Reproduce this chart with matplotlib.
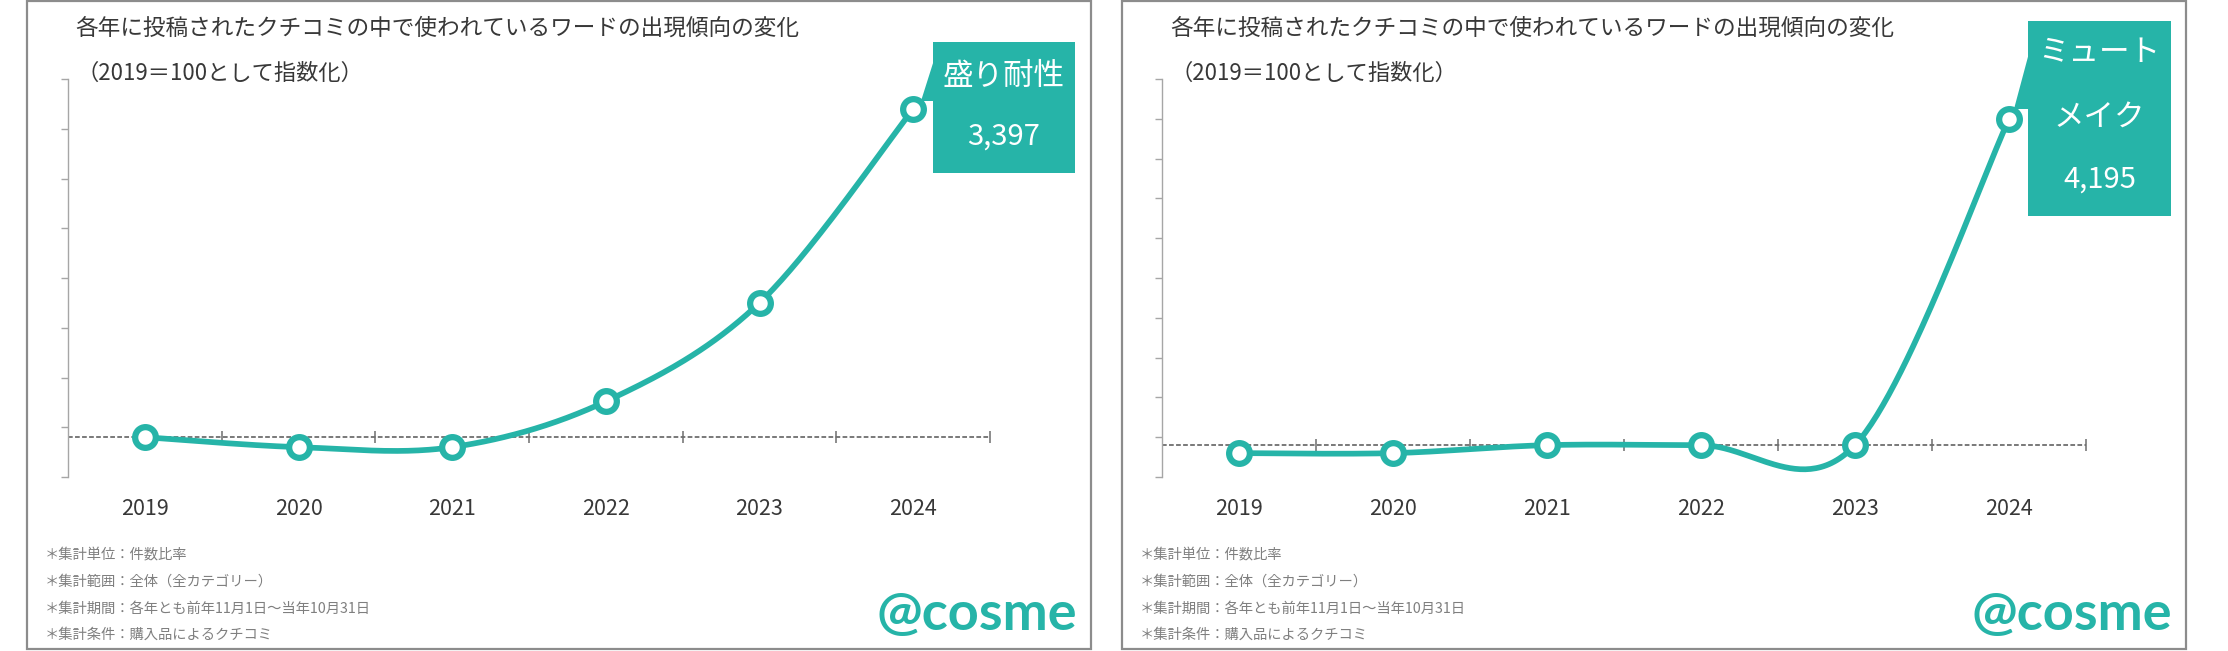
import numpy as np
import matplotlib
matplotlib.use("Agg")
import matplotlib.pyplot as plt
from matplotlib.patches import Rectangle, Polygon

plt.rcParams['font.family'] = ['Noto Sans CJK JP', 'DejaVu Sans']

# ---------------- data ----------------
years = ['2019', '2020', '2021', '2022', '2023', '2024']
left_word = ['盛り耐性']
left_values = [100, 0, 0, 460, 1450, 3397]
right_word = ['ミュート', 'メイク']
right_values = [0, 0, 100, 100, 100, 4195]
left_ylim = (-300, 3700)
right_ylim = (-300, 4700)
tick_step = 500
cross_value = 100

title = '各年に投稿されたクチコミの中で使われているワードの出現傾向の変化'
subtitle = '（2019＝100として指数化）'
notes = ['＊集計単位：件数比率',
         '＊集計範囲：全体（全カテゴリー）',
         '＊集計期間：各年とも前年11月1日～当年10月31日',
         '＊集計条件：購入品によるクチコミ']
logo = '@cosme'

# ---------------- style ----------------
TEAL = '#26B4A8'
TEXT = '#383838'
NOTE = '#7F7F7F'
AXIS = '#A6A6A6'
W, H = 2228, 651

fig = plt.figure(figsize=(W / 100, H / 100), dpi=100)


def fx(px):
    return px / W


def fy(py):
    return 1 - py / H


def smooth(xs, ys, n=60):
    P = np.column_stack([xs, ys]).astype(float)
    pts = np.vstack([P[0], P, P[-1]])
    out = []
    t = np.linspace(0, 1, n)[:, None]
    for i in range(len(P) - 1):
        p0, p1, p2, p3 = pts[i], pts[i + 1], pts[i + 2], pts[i + 3]
        c1 = p1 + (p2 - p0) / 6
        c2 = p2 - (p3 - p1) / 6
        seg = (1 - t) ** 3 * p1 + 3 * (1 - t) ** 2 * t * c1 + 3 * (1 - t) * t ** 2 * c2 + t ** 3 * p2
        out.append(seg if i == 0 else seg[1:])
    return np.vstack(out)


def panel(x0, ax_l, ax_r, values, ylim, word, box, wedge, word_ys, val_y):
    # frame
    fig.patches.append(Rectangle((fx(x0), fy(649)), (1064) / W, (648) / H,
                                 transform=fig.transFigure, fill=False,
                                 edgecolor='#8C8C8C', lw=1.6, zorder=0.5))
    # titles
    fig.text(fx(x0 + 48), fy(28), title, fontsize=16.3, color=TEXT, va='center', ha='left')
    fig.text(fx(x0 + 49), fy(73), subtitle, fontsize=16, color=TEXT, va='center', ha='left')
    # notes
    for k, s in enumerate(notes):
        fig.text(fx(x0 + 18), fy(555 + k * 26.7), s, fontsize=10.3, color=NOTE, va='center', ha='left')
    # logo
    fig.text(fx(x0 + 950), fy(615), logo, fontsize=39, color=TEAL, fontfamily='Lato',
             fontweight='bold', va='center', ha='center')

    ax = fig.add_axes([fx(ax_l), fy(477), (ax_r - ax_l) / W, (477 - 79) / H])
    ax.set_facecolor('none')
    ax.set_xlim(-0.5, len(years) - 0.5)
    ax.set_ylim(*ylim)
    for s in ['top', 'right', 'bottom']:
        ax.spines[s].set_visible(False)
    ax.spines['left'].set_color(AXIS)
    ax.spines['left'].set_linewidth(1.0)
    ax.set_yticks(np.arange(ylim[0], ylim[1] + 1, tick_step))
    ax.tick_params(axis='y', direction='out', length=5, width=1, color=AXIS, labelleft=False)
    ax.set_xticks(range(len(years)), years)
    ax.tick_params(axis='x', length=0, pad=15, labelsize=15.5, labelcolor=TEXT)

    # horizontal axis (dashed, crossing at 100)
    ax.axhline(cross_value, color='#6E6E6E', lw=1.3, ls=(0, (2.6, 1.3)), zorder=1)
    ax.plot(np.arange(0.5, len(years), 1.0), [cross_value] * len(years), ls='none',
            marker='|', ms=9, mew=1.1, color='#6E6E6E', zorder=1)

    xs = np.arange(len(years))
    curve = smooth(xs, values)
    ax.plot(curve[:, 0], curve[:, 1], color=TEAL, lw=4.1, solid_capstyle='round', zorder=3,
            clip_on=False)
    ax.plot(xs, values, ls='none', marker='o', ms=14.9, mew=4.5, mfc='white', mec=TEAL,
            zorder=4, clip_on=False)

    # callout
    bx0, by0, bx1, by1 = box
    fig.patches.append(Rectangle((fx(bx0), fy(by1)), (bx1 - bx0) / W, (by1 - by0) / H,
                                 transform=fig.transFigure, facecolor=TEAL, edgecolor='none',
                                 zorder=5))
    fig.patches.append(Polygon([(fx(px), fy(py)) for px, py in wedge], closed=True,
                               transform=fig.transFigure, facecolor=TEAL, edgecolor='none',
                               zorder=5))
    cx = (bx0 + bx1) / 2
    for s, yy in zip(word, word_ys):
        fig.text(fx(cx), fy(yy), s, fontsize=22, color='white', ha='center', va='center', zorder=6)
    fig.text(fx(cx), fy(val_y), f'{values[-1]:,}', fontsize=21, color='white',
             ha='center', va='center', zorder=6)
    return ax


panel(27, 68, 990, left_values, left_ylim, left_word,
      (933, 42, 1075, 173), [(934, 60), (921, 101), (934, 101)], [76], 137)
panel(1122, 1162, 2086, right_values, right_ylim, right_word,
      (2028, 21, 2171, 216), [(2029, 53), (2014, 109), (2029, 109)], [53, 117], 180)

fig.savefig('out.png', dpi=100, facecolor='white')
